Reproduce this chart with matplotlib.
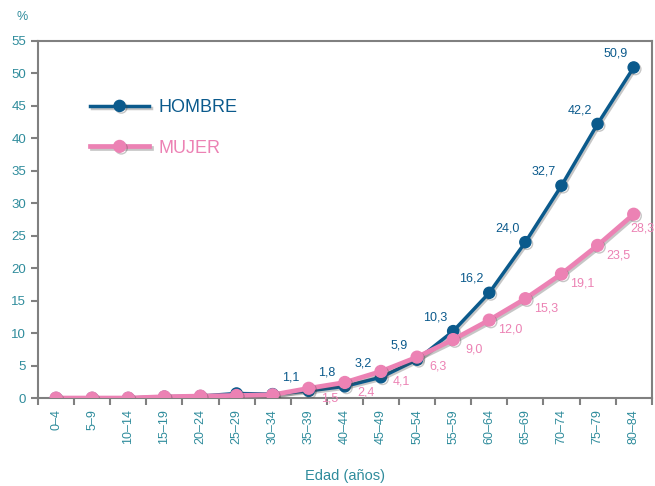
import matplotlib
matplotlib.use('Agg')
import matplotlib.pyplot as plt
import matplotlib.patheffects as pe

# data
edades = ['0–4', '5–9', '10–14', '15–19', '20–24', '25–29', '30–34', '35–39', '40–44',
          '45–49', '50–54', '55–59', '60–64', '65–69', '70–74', '75–79', '80–84']
hombre = [0.0, 0.0, 0.0, 0.2, 0.3, 0.7, 0.6, 1.1, 1.8, 3.2, 5.9, 10.3, 16.2, 24.0, 32.7, 42.2, 50.9]
mujer = [0.0, 0.0, 0.0, 0.2, 0.3, 0.4, 0.5, 1.5, 2.4, 4.1, 6.3, 9.0, 12.0, 15.3, 19.1, 23.5, 28.3]
etiq_hombre = ['1,1', '1,8', '3,2', '5,9', '10,3', '16,2', '24,0', '32,7', '42,2', '50,9']
etiq_mujer = ['1,5', '2,4', '4,1', '6,3', '9,0', '12,0', '15,3', '19,1', '23,5', '28,3']

plt.rcParams['font.family'] = ['Liberation Sans', 'DejaVu Sans']

azul = '#0b5a8c'
rosa = '#ec82b4'
teal = '#2f8c9c'
gris = '#808080'

fig = plt.figure(figsize=(6.55, 4.86), dpi=100)
ax = fig.add_axes([0.058, 0.181, 0.937, 0.735])

x = list(range(len(edades)))
sombra = [pe.SimpleLineShadow(offset=(1.2, -1.2), shadow_color='#444444', alpha=0.3), pe.Normal()]

ax.plot(x, hombre, color=azul, lw=2.5, marker='o', ms=8, label='HOMBRE',
        path_effects=sombra, zorder=3)
ax.plot(x, mujer, color=rosa, lw=3.4, marker='o', ms=8.5, label='MUJER',
        path_effects=sombra, zorder=4)

# data labels
for i, t in enumerate(etiq_hombre):
    k = 7 + i
    ax.annotate(t, (k, hombre[k]), xytext=(-13, 10), textcoords='offset points',
                ha='center', va='center', color=azul, fontsize=9)
for i, t in enumerate(etiq_mujer):
    k = 7 + i
    dx, dy = (15, -7) if k < len(edades) - 1 else (6, -10)
    ax.annotate(t, (k, mujer[k]), xytext=(dx, dy), textcoords='offset points',
                ha='center', va='center', color=rosa, fontsize=9)

ax.set_xlim(-0.5, len(edades) - 0.5)
ax.set_ylim(0, 55)
ax.set_yticks(range(0, 56, 5))
ax.set_xticks(x)
ax.set_xticklabels(edades, rotation=90, color=teal, fontsize=9)
ax.set_xticks([i + 0.5 for i in range(-1, len(edades))], minor=True)
ax.tick_params(axis='x', which='major', length=0, pad=8)
ax.tick_params(axis='x', which='minor', length=5, width=1.5, color=gris, direction='out')
ax.tick_params(axis='y', length=5, width=1.5, color=gris, labelcolor=teal, labelsize=9.5)

for s in ax.spines.values():
    s.set_color(gris)
    s.set_linewidth(1.5)

ax.set_xlabel('Edad (años)', color=teal, fontsize=10.5, labelpad=18)
fig.text(0.034, 0.965, '%', color=teal, fontsize=9, ha='center', va='center')

leg = ax.legend(loc='upper left', bbox_to_anchor=(0.058, 0.882), frameon=False,
                handlelength=3.3, labelspacing=1.3, fontsize=13, handletextpad=0.5)
for txt, c in zip(leg.get_texts(), [azul, rosa]):
    txt.set_color(c)

fig.savefig('out.png', dpi=100)
